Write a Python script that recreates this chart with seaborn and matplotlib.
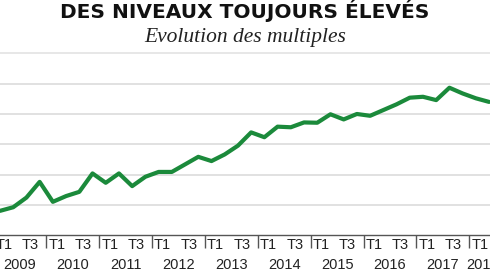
import matplotlib
matplotlib.use('Agg')
import numpy as np
import pandas as pd
import matplotlib.pyplot as plt
import seaborn as sns
from matplotlib import font_manager
from matplotlib.lines import Line2D

# Données (multiples trimestriels, T1 2009 -> T2 2018)
years = [2009, 2010, 2011, 2012, 2013, 2014, 2015, 2016, 2017, 2018]
shown_quarters = ['T1', 'T3']
multiples = [6.80, 6.92, 7.24, 7.76,
             7.10, 7.29, 7.43, 8.04,
             7.73, 8.04, 7.62, 7.93,
             8.09, 8.09, 8.34, 8.59,
             8.45, 8.67, 8.96, 9.40,
             9.24, 9.59, 9.57, 9.73,
             9.72, 10.00, 9.83, 10.01,
             9.95, 10.14, 10.33, 10.55,
             10.58, 10.47, 10.88, 10.69,
             10.53, 10.41]
grid_levels = [7, 8, 9, 10, 11]

df = pd.DataFrame({'trimestre': np.arange(len(multiples)), 'multiple': multiples})
df['annee'] = [years[i // 4] for i in df['trimestre']]

sns.set_theme(style='white')
installed = {f.name for f in font_manager.fontManager.ttflist}
narrow = 'Liberation Sans Narrow' if 'Liberation Sans Narrow' in installed else 'Liberation Sans'

fig = plt.figure(figsize=(4.9, 2.75), dpi=100)
ax = fig.add_axes([0, 40 / 275, 1, 169 / 275])

sns.lineplot(data=df, x='trimestre', y='multiple', ax=ax, color='#1b8a3b', linewidth=3)

ax.set_xlim(0, 37.07)
ax.set_ylim(6, 11.6)
ax.set_yticks(grid_levels)
ax.set_yticklabels([])
ax.tick_params(axis='y', length=0, left=False)
ax.yaxis.grid(True, color='#dcdcdc', linewidth=1.2)
ax.set_axisbelow(True)
ax.set_xlabel('')
ax.set_ylabel('')

for side in ['top', 'left', 'right']:
    ax.spines[side].set_visible(False)
ax.spines['bottom'].set_color('#555555')
ax.spines['bottom'].set_linewidth(1)

# séparateurs entre années
ax.set_xticks([4 * k - 0.5 for k in range(1, len(years))])
ax.set_xticklabels([])
ax.tick_params(axis='x', bottom=True, length=9, width=1, color='#555555', direction='out')

trans = ax.get_xaxis_transform()
for k, yr in enumerate(years):
    q = df[df['annee'] == yr]['trimestre']
    for lab in shown_quarters:
        pos = 4 * k + int(lab[1]) - 1
        ax.text(pos + 0.3, -0.06, lab, transform=trans, ha='center', va='center',
                fontsize=10.5, family=narrow, color='#222222', clip_on=False)
    ax.text((q.min() + q.max()) / 2, -0.175, str(yr), transform=trans, ha='center',
            va='center', fontsize=10.5, family=narrow, color='#222222', clip_on=False)

fig.text(0.5, 1 - 18.3 / 275, 'DES NIVEAUX TOUJOURS ÉLEVÉS', ha='center', va='baseline',
         fontsize=14.5, fontweight='bold', family='DejaVu Sans', color='#111111')
fig.text(0.5, 1 - 42 / 275, 'Evolution des multiples', ha='center', va='baseline',
         fontsize=15.5, style='italic', family='Liberation Serif', color='#222222')
fig.add_artist(Line2D([0, 1], [1 - 53 / 275] * 2, transform=fig.transFigure,
                      color='#e3e3e3', linewidth=1.2))

fig.savefig('out.png', dpi=100)
